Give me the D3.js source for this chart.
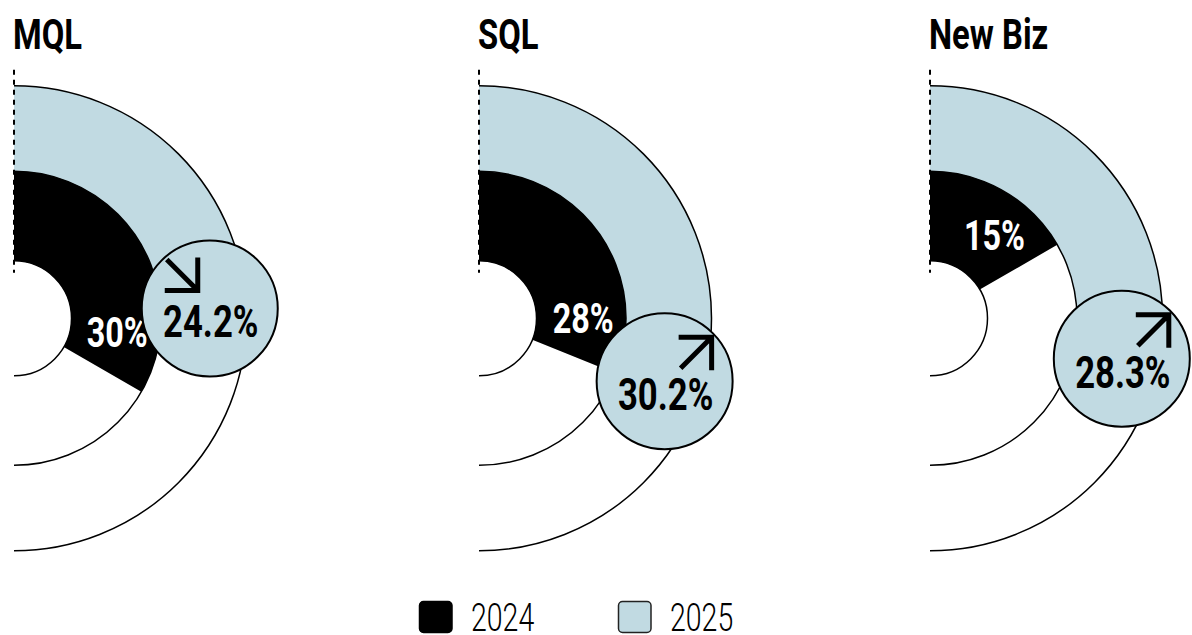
<!DOCTYPE html>
<html>
<head>
<meta charset="utf-8">
<script src="https://cdn.jsdelivr.net/npm/d3@7"></script>
<style>
  html, body { margin: 0; padding: 0; background: #fff; }
  svg { display: block; font-family: Roboto, "Noto Sans", sans-serif; }
</style>
</head>
<body>
<svg id="chart" width="1192" height="635"></svg>
<script>
// Conversion rates by funnel stage, 2024 vs 2025 (percent)
const categories = ["MQL", "SQL", "New Biz"];
const values2024 = [30, 28, 15];
const values2025 = [24.2, 30.2, 28.3];
const seriesNames = ["2024", "2025"];

// Layout
const W = 1192, H = 635;
const panelX = [14, 479, 930];
const cy = 318.3;
const rHole = 57.5, rMid = 147, rOuter = 232.5;
const badgeR = 196, badgeSize = 68;
const BLUE = "#c1dae2";

const svg = d3.select("#chart");

// Each ring gets its own angular scale, 12 o'clock clockwise
const angle2024 = d3.scaleLinear().domain([0, 45]).range([0, Math.PI]);
const angle2025 = d3.scaleLinear().domain([0, 50]).range([0, Math.PI]);

const arcInner = d3.arc().innerRadius(rHole).outerRadius(rMid).startAngle(0);
const arcOuter = d3.arc().innerRadius(rMid).outerRadius(rOuter).startAngle(0);

const fmt = v => `${v}%`;

// condensed text helper: horizontal squeeze around the anchor point
function condensedText(g, x, y, str, opts) {
  return g.append("text")
    .attr("transform", `translate(${x},${y}) scale(${opts.sx},1)`)
    .attr("text-anchor", opts.anchor || "start")
    .attr("font-size", opts.size)
    .attr("font-weight", opts.weight || 700)
    .attr("fill", opts.fill || "#000")
    .text(str);
}

const defs = svg.append("defs");

categories.forEach((cat, i) => {
  const cx = panelX[i];
  const v24 = values2024[i], v25 = values2025[i];

  // right half only
  defs.append("clipPath").attr("id", `half-${i}`)
    .append("rect").attr("x", cx).attr("y", 0).attr("width", W).attr("height", H);

  const panel = svg.append("g");

  // title
  condensedText(panel, cx - 1, 48.5, cat, { size: 42, sx: 0.78, weight: 700 });

  const rings = panel.append("g").attr("clip-path", `url(#half-${i})`)
    .append("g").attr("transform", `translate(${cx},${cy})`);

  // 2025 ring
  rings.append("path")
    .attr("d", arcOuter.endAngle(angle2025(v25))())
    .attr("fill", BLUE);

  // 2024 ring
  rings.append("path")
    .attr("d", arcInner.endAngle(angle2024(v24))())
    .attr("fill", "#000");

  // ring outlines
  rings.selectAll("circle.track")
    .data([rHole, rMid, rOuter])
    .join("circle")
    .attr("class", "track")
    .attr("r", d => d)
    .attr("fill", "none")
    .attr("stroke", "#000")
    .attr("stroke-width", 1.5);

  const g = panel.append("g").attr("transform", `translate(${cx},${cy})`);

  // zero baseline
  g.append("line")
    .attr("x1", 0).attr("x2", 0)
    .attr("y1", -rOuter - 16).attr("y2", -rHole + 12)
    .attr("stroke", "#000")
    .attr("stroke-width", 2)
    .attr("stroke-dasharray", "5,5");

  // 2024 value label, set just inside the end of its arc
  const a24 = angle2024(v24) - 0.38;
  const rl = (rHole + rMid) / 2 + 2;
  condensedText(g, rl * Math.sin(a24), -rl * Math.cos(a24) + 14, fmt(v24),
    { size: 42, sx: 0.77, weight: 700, fill: "#fff", anchor: "middle" });

  // 2025 badge at the end of the outer arc
  const a25 = angle2025(v25);
  const bx = badgeR * Math.sin(a25), by = -badgeR * Math.cos(a25);
  const badge = g.append("g").attr("transform", `translate(${bx},${by})`);
  badge.append("circle")
    .attr("r", badgeSize)
    .attr("fill", BLUE)
    .attr("stroke", "#000")
    .attr("stroke-width", 2);
  condensedText(badge, 1, 29, fmt(v25), { size: 45, sx: 0.77, weight: 700, anchor: "middle" });

  // change arrow
  const up = v25 >= v24;
  const arrow = badge.append("path")
    .attr("fill", "none")
    .attr("stroke", "#000")
    .attr("stroke-width", 5)
    .attr("stroke-linecap", "butt")
    .attr("stroke-linejoin", "miter");
  if (up) {
    // corner at top-right
    const k = [47, -44];
    arrow.attr("d", `M${k[0] - 33},${k[1]} L${k[0]},${k[1]} L${k[0]},${k[1] + 33} M${k[0]},${k[1]} L${k[0] - 31},${k[1] + 31}`);
  } else {
    // corner at bottom-right
    const k = [-12, -18];
    arrow.attr("d", `M${k[0] - 33},${k[1]} L${k[0]},${k[1]} L${k[0]},${k[1] - 33} M${k[0]},${k[1]} L${k[0] - 31},${k[1] - 31}`);
  }
});

// legend
const legend = svg.append("g");
const legendX = [419.5, 618.5];
const legendFill = ["#000", BLUE];
seriesNames.forEach((name, i) => {
  legend.append("rect")
    .attr("x", legendX[i]).attr("y", 601.5)
    .attr("width", 32.5).attr("height", 31)
    .attr("rx", 4)
    .attr("fill", legendFill[i])
    .attr("stroke", i === 0 ? "#000" : "#222")
    .attr("stroke-width", 1.5);
  condensedText(legend, legendX[i] + 51.5, 631, name, { size: 38, sx: 0.75, weight: 300 });
});
</script>
</body>
</html>
